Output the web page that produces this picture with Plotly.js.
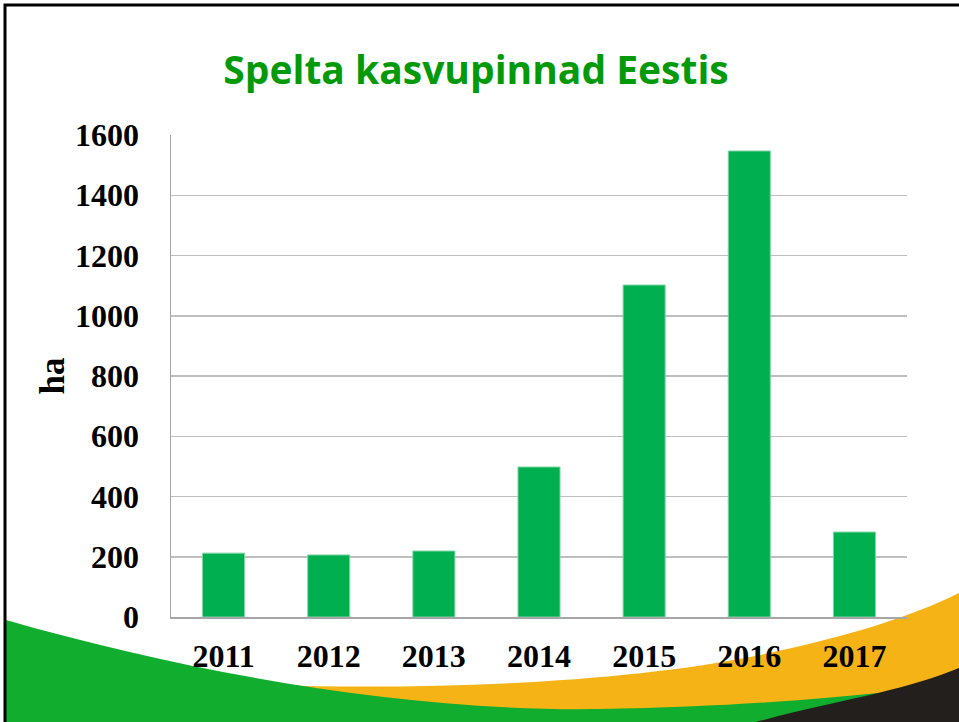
<!DOCTYPE html>
<html>
<head>
<meta charset="utf-8">
<script src="https://cdn.plot.ly/plotly-3.0.1.min.js"></script>
<style>
  html, body { margin: 0; padding: 0; background: #ffffff; }
  #wrap { position: relative; width: 959px; height: 722px; overflow: hidden; background: #ffffff; }
  #bg { position: absolute; left: 0; top: 0; }
  #chart { position: absolute; left: 0; top: 0; width: 959px; height: 722px; }
</style>
</head>
<body>
<div id="wrap">
  <svg id="bg" width="959" height="722" viewBox="0 0 959 722">
    <path d="M269,685 C420,690 620,684 760,655 C850,636 910,617 959,593 L959,722 L269,722 Z" fill="#F5B316"/>
    <path d="M6,620 C180,670 400,712 600,709 C720,707 810,700 878,693 L878,722 L6,722 Z" fill="#10AD2E"/>
    <path d="M756,722 C800,710 840,702 878,693 C910,685 935,678 959,668 L959,722 Z" fill="#231F1C"/>
    <path d="M5,722 L5,5 L959,5" fill="none" stroke="#000000" stroke-width="3"/>
  </svg>
  <div id="chart"></div>
</div>
<script>
const years = ["2011", "2012", "2013", "2014", "2015", "2016", "2017"];
const hectares = [212, 206, 219, 498, 1102, 1547, 282];
const yTicks = [0, 200, 400, 600, 800, 1000, 1200, 1400, 1600];
const titleText = "Spelta kasvupinnad Eestis";
const yTitle = "ha";

const trace = {
  type: "bar",
  x: years,
  y: hectares,
  marker: { color: "#00B050", line: { color: "#7FD7A6", width: 1 } },
  hoverinfo: "x+y"
};

const tickFont = { family: "Liberation Serif, Times New Roman, serif", size: 32, color: "#000000", weight: "bold" };

const layout = {
  width: 959,
  height: 722,
  paper_bgcolor: "rgba(0,0,0,0)",
  plot_bgcolor: "rgba(0,0,0,0)",
  margin: { l: 171, r: 52, t: 135, b: 105, pad: 0 },
  showlegend: false,
  bargap: 0.6,
  title: {
    text: "<b>" + titleText + "</b>",
    font: { family: "Open Sans, Noto Sans, sans-serif", size: 39, color: "#039A0A" },
    x: 476 / 959, xanchor: "center", xref: "container",
    y: 1 - 70 / 722, yanchor: "middle", yref: "container"
  },
  xaxis: {
    type: "category",
    showgrid: false,
    showline: true,
    linecolor: "#A6A6A6",
    linewidth: 1.5,
    ticks: "",
    tickfont: tickFont,
    ticklabelstandoff: 10
  },
  yaxis: {
    range: [0, 1600],
    tickvals: yTicks,
    ticktext: yTicks.map(String),
    showgrid: true,
    gridcolor: "#BFBFBF",
    gridwidth: 1.5,
    showline: true,
    linecolor: "#A6A6A6",
    linewidth: 1.5,
    zeroline: false,
    ticks: "",
    tickfont: tickFont,
    ticklabelstandoff: 24,
    title: {
      text: "<b>" + yTitle + "</b>",
      font: { family: "Liberation Serif, Times New Roman, serif", size: 35, color: "#000000" },
      standoff: 0
    }
  }
};

Plotly.newPlot("chart", [trace], layout, { displayModeBar: false, staticPlot: true });
</script>
</body>
</html>
